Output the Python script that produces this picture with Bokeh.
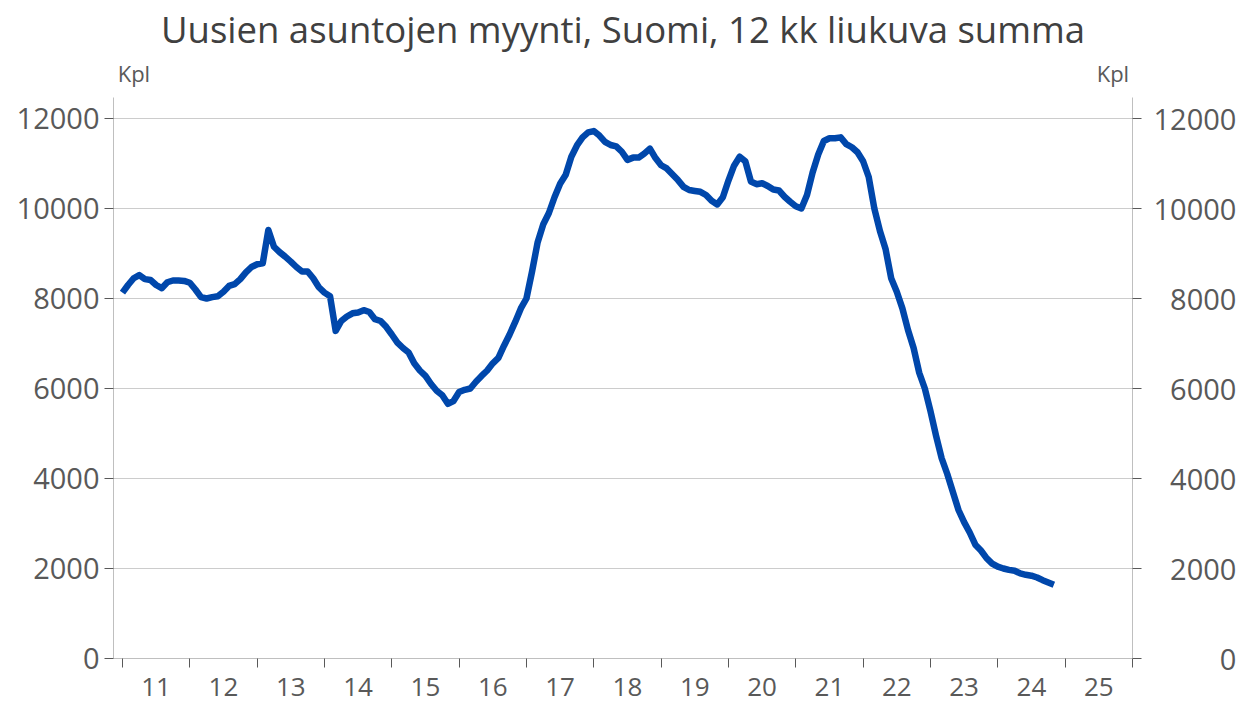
import pandas as pd
from bokeh.plotting import figure
from bokeh.models import Range1d, LinearAxis, FixedTicker
from bokeh.embed import file_html
from bokeh.resources import INLINE

title_text = "Uusien asuntojen myynti, Suomi, 12 kk liukuva summa"
unit_label = "Kpl"
start_month = "2011-01"

# 12 kk liukuva summa, kpl (monthly, 2011-01 ... 2024-11)
sales = [
    8130, 8300, 8450, 8520, 8430, 8410, 8300, 8230, 8360, 8400, 8400, 8390,        # 2011
    8350, 8200, 8030, 8000, 8030, 8050, 8150, 8280, 8320, 8430, 8580, 8700,        # 2012
    8760, 8780, 9520, 9150, 9030, 8930, 8820, 8700, 8600, 8600, 8450, 8250,        # 2013
    8130, 8050, 7280, 7500, 7600, 7670, 7690, 7740, 7700, 7540, 7500, 7370,        # 2014
    7200, 7020, 6900, 6800, 6560, 6400, 6280, 6100, 5950, 5850, 5660, 5720,        # 2015
    5920, 5970, 6000, 6150, 6280, 6400, 6560, 6680, 6950, 7200, 7480, 7780,        # 2016
    8000, 8600, 9250, 9650, 9900, 10250, 10550, 10750, 11150, 11400, 11580, 11690, # 2017
    11720, 11620, 11480, 11410, 11380, 11260, 11080, 11130, 11130, 11220, 11330, 11120,  # 2018
    10960, 10890, 10760, 10630, 10480, 10410, 10390, 10370, 10300, 10170, 10090, 10250,  # 2019
    10620, 10950, 11150, 11050, 10600, 10540, 10560, 10500, 10420, 10400, 10260, 10150,  # 2020
    10050, 10000, 10300, 10800, 11200, 11500, 11560, 11560, 11580, 11430, 11360, 11250,  # 2021
    11050, 10700, 10000, 9500, 9100, 8450, 8150, 7780, 7300, 6900, 6350, 6000,     # 2022
    5500, 4950, 4450, 4100, 3700, 3300, 3030, 2800, 2530, 2400, 2230, 2110,        # 2023
    2040, 2000, 1970, 1950, 1890, 1860, 1840, 1800, 1740, 1690, 1640,              # 2024
]

years = list(range(2011, 2026))
year_labels = [f"{y % 100:02d}" for y in years]
y_ticks = [0, 2000, 4000, 6000, 8000, 10000, 12000]

dates = pd.date_range(start_month, periods=len(sales), freq="MS")
x = list(dates.year + (dates.month - 1) / 12.0)

FONT = "Open Sans"
TXT = "#595959"
AXIS = "#bfbfbf"
GRID = "#cccccc"
TICK = "#595959"

x0, x1 = 2010.867, 2026.001
y0, y1 = 0, 12466

p = figure(width=1239, height=704, x_range=Range1d(x0, x1), y_range=Range1d(y0, y1),
           output_backend="svg", toolbar_location=None,
           min_border_left=113, min_border_right=104, min_border_top=96, min_border_bottom=46)
p.outline_line_color = None
p.background_fill_color = "white"
p.border_fill_color = "white"

p.title.text = title_text
p.title.align = "center"
p.title.text_font = FONT
p.title.text_font_size = "36.5px"
p.title.text_font_style = "normal"
p.title.text_color = "#404040"
p.title.standoff = 2

# x axis: labels at year centers, tick marks at year boundaries
xa = p.xaxis[0]
xa.ticker = FixedTicker(ticks=[y + 0.5 for y in years], minor_ticks=list(range(2011, 2027)))
xa.major_label_overrides = {y + 0.5: lab for y, lab in zip(years, year_labels)}
xa.major_tick_out = 0
xa.major_tick_in = 0
xa.minor_tick_out = 9
xa.minor_tick_in = 0
xa.minor_tick_line_color = TICK
xa.axis_line_color = AXIS
xa.major_label_standoff = 10
xa.major_label_text_font = FONT
xa.major_label_text_font_size = "26px"
xa.major_label_text_color = TXT

ya = p.yaxis[0]
ya.ticker = FixedTicker(ticks=y_ticks)
ya.major_tick_out = 9
ya.major_tick_in = 0
ya.minor_tick_line_color = None
ya.major_tick_line_color = TICK
ya.axis_line_color = AXIS
ya.major_label_standoff = 5
ya.major_label_text_font = FONT
ya.major_label_text_font_size = "29px"
ya.major_label_text_color = TXT

# right axis; labels padded with figure spaces so they read right-aligned
ra = LinearAxis(ticker=FixedTicker(ticks=y_ticks))
ra.major_label_overrides = {v: "\u2007" * (5 - len(str(v))) + str(v) for v in y_ticks}
ra.major_tick_out = 9
ra.major_tick_in = 0
ra.minor_tick_line_color = None
ra.major_tick_line_color = TICK
ra.axis_line_color = AXIS
ra.major_label_standoff = 12
ra.major_label_text_font = FONT
ra.major_label_text_font_size = "29px"
ra.major_label_text_color = TXT
p.add_layout(ra, "right")

# unit labels "Kpl" above both value axes
ua = LinearAxis(ticker=FixedTicker(ticks=[2011.17, 2025.71]))
ua.major_label_overrides = {2011.17: unit_label, 2025.71: unit_label}
ua.axis_line_color = None
ua.major_tick_line_color = None
ua.minor_tick_line_color = None
ua.major_tick_out = 0
ua.major_label_standoff = 10
ua.major_label_text_font = FONT
ua.major_label_text_font_size = "22px"
ua.major_label_text_color = TXT
p.add_layout(ua, "above")

p.xgrid.visible = False
p.ygrid.ticker = FixedTicker(ticks=y_ticks)
p.ygrid.grid_line_color = GRID
p.ygrid.grid_line_width = 1

p.line(x, sales, line_color="#0047AB", line_width=6.5, line_join="round")

open("out.html", "w").write(file_html(p, INLINE))
